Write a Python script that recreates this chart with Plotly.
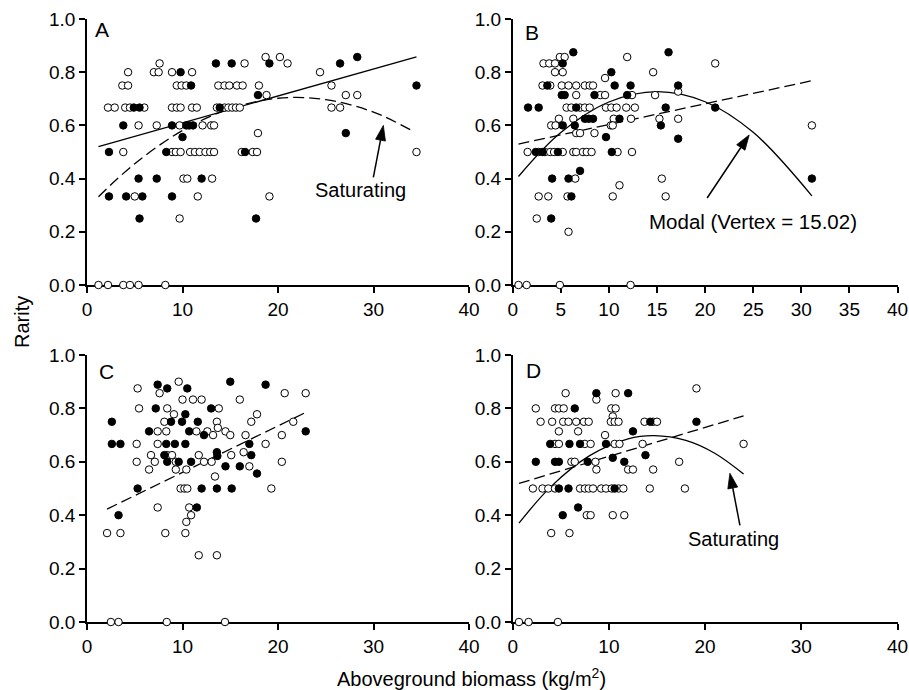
import math
import plotly.graph_objects as go

# ---------------- data ----------------
# Panel A
A_open_x = [7.6, 16.5, 18.7, 20.2, 21.0,
            4.3, 7.0, 7.5, 8.9, 11.0, 24.4,
            3.7, 4.3, 9.4, 9.9, 10.4, 13.75, 14.4, 14.9, 15.7, 16.3, 18.0, 25.6,
            18.8, 27.1, 28.3,
            2.2, 2.9, 4.0, 4.5, 6.0, 8.9, 9.4, 9.8, 11.0, 11.5, 13.6, 14.4, 14.8, 15.2, 15.6, 16.0, 25.6, 26.5,
            5.4, 7.3, 9.7, 12.1, 13.0, 13.3,
            17.9,
            3.8, 8.9, 9.3, 9.8, 10.8, 11.3, 11.8, 12.4, 12.9, 13.3, 16.2, 17.35, 17.8, 34.5,
            10.1, 10.5, 13.1,
            5.0, 11.6, 19.1,
            9.7,
            1.2, 2.2, 3.8, 4.5, 5.4, 8.2]
A_open_y = [0.833, 0.833, 0.857, 0.857, 0.833,
            0.8, 0.8, 0.8, 0.8, 0.8, 0.8,
            0.75, 0.75, 0.75, 0.75, 0.75, 0.75, 0.75, 0.75, 0.75, 0.75, 0.75, 0.75,
            0.714, 0.714, 0.714,
            0.667, 0.667, 0.667, 0.667, 0.667, 0.667, 0.667, 0.667, 0.667, 0.667, 0.667, 0.667, 0.667, 0.667, 0.667, 0.667, 0.667, 0.667,
            0.6, 0.6, 0.6, 0.6, 0.6, 0.6,
            0.571,
            0.5, 0.5, 0.5, 0.5, 0.5, 0.5, 0.5, 0.5, 0.5, 0.5, 0.5, 0.5, 0.5, 0.5,
            0.4, 0.4, 0.4,
            0.333, 0.333, 0.333,
            0.25,
            0, 0, 0, 0, 0, 0]
A_fill_x = [13.5, 15.15, 9.8, 19.1, 26.5, 28.3,
            10.9, 34.5,
            17.9,
            4.9, 5.5, 13.9,
            3.8, 8.9, 10.4, 10.7, 11.1,
            10.0, 27.1,
            2.3, 8.3, 16.55,
            5.4, 7.3, 12.0,
            2.3, 4.1, 5.8, 8.9,
            5.5, 17.7]
A_fill_y = [0.833, 0.833, 0.8, 0.833, 0.833, 0.857,
            0.75, 0.75,
            0.714,
            0.667, 0.667, 0.667,
            0.6, 0.6, 0.6, 0.6, 0.6,
            0.556, 0.571,
            0.5, 0.5, 0.5,
            0.4, 0.4, 0.4,
            0.333, 0.333, 0.333, 0.333,
            0.25, 0.25]
A_lin_x = [1.2, 34.5]
A_lin_y = [0.52, 0.858]
A_quad_x = [1.2, 5, 10, 15, 20, 25, 30, 34.2]
A_quad_y = [0.332, 0.456, 0.581, 0.663, 0.702, 0.697, 0.650, 0.577]

# Panel B
B_open_x = [4.9, 5.4, 11.9,
            3.2, 3.8, 4.4, 21.05,
            4.4, 5.2, 14.6,
            9.6,
            3.1, 3.9, 5.1, 5.8, 6.6, 7.5, 8.0, 8.35,
            17.2,
            6.6, 9.1, 9.6, 12.4, 14.8,
            5.6, 6.1, 7.0, 7.5, 8.0, 9.7, 10.25, 10.8, 11.8, 12.7,
            4.8, 6.3, 10.5, 12.3, 15.25, 17.2,
            4.0, 4.45, 10.2, 10.4, 31.1,
            6.6, 7.0, 8.5,
            1.55, 2.7, 3.35, 3.9, 4.3, 5.2, 6.3, 6.6, 7.3, 7.7, 8.2, 10.9, 12.4,
            6.5, 15.5,
            11.1,
            2.7, 3.7, 5.7, 10.4, 15.9,
            2.5,
            5.8,
            0.6, 1.45, 4.9, 12.25]
B_open_y = [0.857, 0.857, 0.857,
            0.833, 0.833, 0.833, 0.833,
            0.8, 0.8, 0.8,
            0.778,
            0.75, 0.75, 0.75, 0.75, 0.75, 0.75, 0.75, 0.75,
            0.727,
            0.714, 0.714, 0.714, 0.714, 0.714,
            0.667, 0.667, 0.667, 0.667, 0.667, 0.667, 0.667, 0.667, 0.667, 0.667,
            0.625, 0.625, 0.625, 0.625, 0.625, 0.625,
            0.6, 0.6, 0.6, 0.6, 0.6,
            0.571, 0.571, 0.571,
            0.5, 0.5, 0.5, 0.5, 0.5, 0.5, 0.5, 0.5, 0.5, 0.5, 0.5, 0.5, 0.5,
            0.4, 0.4,
            0.375,
            0.333, 0.333, 0.333, 0.333, 0.333,
            0.25,
            0.2,
            0, 0, 0, 0]
B_fill_x = [6.3, 16.2,
            5.2,
            10.25,
            3.6, 10.6, 12.25, 17.2,
            5.1, 5.4, 8.5, 11.9,
            1.6, 2.7, 6.6, 15.9, 21.05,
            7.5, 7.9, 8.35, 11.1,
            5.2, 6.45, 15.4,
            9.7, 17.2,
            2.4, 3.1, 4.7, 10.3,
            7.0,
            4.1, 5.8, 31.1,
            6.1,
            4.0]
B_fill_y = [0.875, 0.875,
            0.833,
            0.8,
            0.75, 0.75, 0.75, 0.75,
            0.714, 0.714, 0.714, 0.714,
            0.667, 0.667, 0.667, 0.667, 0.667,
            0.625, 0.625, 0.625, 0.625,
            0.6, 0.6, 0.6,
            0.556, 0.55,
            0.5, 0.5, 0.5, 0.5,
            0.429,
            0.4, 0.4, 0.4,
            0.333,
            0.25]
B_lin_x = [0.6, 31.1]
B_lin_y = [0.53, 0.768]
B_quad_x = [0.6, 5, 10, 15.02, 20, 25, 31.1]
B_quad_y = [0.408, 0.573, 0.688, 0.727, 0.689, 0.574, 0.335]

# Panel C
C_open_x = [7.6, 9.6, 5.3,
            10.0, 11.1, 12.0, 16.0,
            5.45, 8.4, 13.8,
            9.1, 17.8,
            8.1, 13.6, 17.2, 21.6,
            7.4, 8.3, 11.45, 12.6, 14.5,
            13.7,
            13.2, 15.0, 16.6, 20.4,
            5.2, 7.4, 18.7,
            6.7, 8.4, 8.9, 11.7, 15.1, 16.4,
            5.2, 7.1, 9.3, 12.25, 13.05, 20.4,
            17.0,
            6.5, 9.3, 10.4,
            13.4,
            9.8, 10.2, 10.5, 19.3,
            7.4, 10.7,
            10.9,
            10.4,
            2.1, 3.5, 8.2, 10.3,
            11.7, 13.6,
            20.7, 22.9,
            2.5, 3.3, 8.35, 14.45]
C_open_y = [0.857, 0.9, 0.875,
            0.833, 0.833, 0.833, 0.833,
            0.8, 0.8, 0.8,
            0.778, 0.778,
            0.75, 0.75, 0.75, 0.75,
            0.714, 0.714, 0.714, 0.714, 0.714,
            0.727,
            0.7, 0.7, 0.7, 0.7,
            0.667, 0.667, 0.667,
            0.625, 0.625, 0.625, 0.625, 0.625, 0.636,
            0.6, 0.6, 0.6, 0.6, 0.6, 0.6,
            0.583,
            0.571, 0.571, 0.571,
            0.545,
            0.5, 0.5, 0.5, 0.5,
            0.429, 0.429,
            0.4,
            0.375,
            0.333, 0.333, 0.333, 0.333,
            0.25, 0.25,
            0.857, 0.857,
            0, 0, 0, 0]
C_fill_x = [7.4, 8.4, 10.5, 15.0, 18.7,
            7.2, 13.0,
            10.3,
            2.6, 8.8, 9.95, 11.6,
            6.5, 10.7, 22.9,
            12.25,
            2.6, 3.5, 8.3, 9.2, 10.3, 17.0,
            8.1, 13.6, 13.65, 17.2,
            8.4, 9.6, 10.9,
            14.5, 16.0,
            17.8,
            5.3, 12.0, 13.6, 15.15,
            11.5,
            3.3]
C_fill_y = [0.889, 0.875, 0.875, 0.9, 0.889,
            0.8, 0.8,
            0.778,
            0.75, 0.75, 0.75, 0.75,
            0.714, 0.714, 0.714,
            0.7,
            0.667, 0.667, 0.667, 0.667, 0.667, 0.667,
            0.625, 0.636, 0.622, 0.625,
            0.6, 0.6, 0.6,
            0.583, 0.583,
            0.556,
            0.5, 0.5, 0.5, 0.5,
            0.429,
            0.4]
C_lin_x = [2.1, 22.9]
C_lin_y = [0.423, 0.785]

# Panel D
D_open_x = [5.5, 8.7, 10.7, 19.1,
            2.4, 4.4, 4.8, 5.3, 10.25, 10.7,
            10.4,
            2.9, 4.1, 5.25, 5.8, 6.6, 7.4, 7.9, 10.2, 10.6, 11.0, 13.7, 14.6, 15.0,
            4.8, 6.8,
            9.6,
            4.4, 4.8, 7.5, 8.1, 10.6, 11.1, 13.5, 24.0,
            6.1, 6.45, 8.6, 17.3,
            8.7, 12.0, 12.5, 14.6,
            2.1, 3.1, 3.7, 4.4, 7.0, 7.5, 7.9, 8.35, 9.2, 9.7, 10.3, 11.0, 11.5, 14.25, 17.9,
            7.7, 8.1, 10.4, 11.6,
            4.0, 5.9,
            0.65, 1.65, 4.7]
D_open_y = [0.857, 0.833, 0.857, 0.875,
            0.8, 0.8, 0.8, 0.8, 0.8, 0.8,
            0.77,
            0.75, 0.75, 0.75, 0.75, 0.75, 0.75, 0.75, 0.75, 0.75, 0.75, 0.75, 0.75, 0.75,
            0.714, 0.714,
            0.7,
            0.667, 0.667, 0.667, 0.667, 0.667, 0.667, 0.667, 0.667,
            0.6, 0.6, 0.6, 0.6,
            0.571, 0.571, 0.571, 0.571,
            0.5, 0.5, 0.5, 0.5, 0.5, 0.5, 0.5, 0.5, 0.5, 0.5, 0.5, 0.5, 0.5, 0.5, 0.5,
            0.4, 0.4, 0.4, 0.4,
            0.333, 0.333,
            0, 0, 0]
D_fill_x = [8.7, 12.0,
            6.45,
            14.3, 19.1,
            12.5,
            3.9, 5.9, 7.0, 9.7,
            13.8, 10.4,
            2.4, 4.4, 4.8, 7.8, 11.6,
            4.8, 5.8, 10.6,
            6.8,
            5.2]
D_fill_y = [0.857, 0.857,
            0.8,
            0.75, 0.75,
            0.714,
            0.667, 0.667, 0.667, 0.667,
            0.625, 0.615,
            0.6, 0.6, 0.6, 0.6, 0.6,
            0.5, 0.5, 0.5,
            0.429,
            0.4]
D_lin_x = [0.65, 24.0]
D_lin_y = [0.519, 0.772]
D_quad_x = [0.65, 4, 8, 12, 14.7, 18, 21, 24.0]
D_quad_y = [0.370, 0.508, 0.623, 0.686, 0.698, 0.680, 0.632, 0.554]

x_ticks_main = [0, 10, 20, 30, 40]
x_ticks_b = [0, 5, 10, 15, 20, 25, 30, 35, 40]
y_ticks = [0.0, 0.2, 0.4, 0.6, 0.8, 1.0]
panel_letters = ["A", "B", "C", "D"]

# ---------------- figure ----------------
FONT = "Liberation Sans, Arial, sans-serif"
W, H = 909, 690
fig = go.Figure()

MS = 7.5
open_marker = dict(symbol="circle", size=MS, color="white", line=dict(color="black", width=1))
fill_marker = dict(symbol="circle", size=MS, color="black", line=dict(color="black", width=1))
solid = dict(color="black", width=1.3)
dashed = dict(color="black", width=1.3, dash="11px,5px")


def add_panel(idx, ox, oy, fx, fy, lines):
    xa = "x" if idx == 1 else f"x{idx}"
    ya = "y" if idx == 1 else f"y{idx}"
    for (lx, ly, style, spline) in lines:
        fig.add_trace(go.Scatter(x=lx, y=ly, mode="lines",
                                 line=dict(**style, shape="spline" if spline else "linear"),
                                 xaxis=xa, yaxis=ya, showlegend=False, hoverinfo="skip",
                                 cliponaxis=False))
    fig.add_trace(go.Scatter(x=ox, y=oy, mode="markers", marker=open_marker, xaxis=xa, yaxis=ya,
                             showlegend=False, cliponaxis=False))
    fig.add_trace(go.Scatter(x=fx, y=fy, mode="markers", marker=fill_marker, xaxis=xa, yaxis=ya,
                             showlegend=False, cliponaxis=False))


add_panel(1, A_open_x, A_open_y, A_fill_x, A_fill_y,
          [(A_lin_x, A_lin_y, solid, False), (A_quad_x, A_quad_y, dashed, True)])
add_panel(2, B_open_x, B_open_y, B_fill_x, B_fill_y,
          [(B_lin_x, B_lin_y, dashed, False), (B_quad_x, B_quad_y, solid, True)])
add_panel(3, C_open_x, C_open_y, C_fill_x, C_fill_y,
          [(C_lin_x, C_lin_y, dashed, False)])
add_panel(4, D_open_x, D_open_y, D_fill_x, D_fill_y,
          [(D_lin_x, D_lin_y, dashed, False), (D_quad_x, D_quad_y, solid, True)])


def px_dom(a, b, total):
    return [a / total, b / total]


x_left = px_dom(87, 469, W)
x_right = px_dom(512.7, 897.5, W)
y_top = [1 - 285 / H, 1 - 19 / H]
y_bot = [1 - 622 / H, 1 - 355 / H]

axis_common = dict(showline=True, linecolor="black", linewidth=1.5, ticks="outside", ticklen=6,
                   tickwidth=1.5, tickcolor="black", showgrid=False, zeroline=False,
                   tickfont=dict(family=FONT, size=19, color="black"), layer="below traces",
                   fixedrange=True, automargin=False, ticklabeloverflow="allow")

layout_axes = {}
specs = [(1, x_left, y_top, x_ticks_main), (2, x_right, y_top, x_ticks_b),
         (3, x_left, y_bot, x_ticks_main), (4, x_right, y_bot, x_ticks_main)]
for idx, xd, yd, xt in specs:
    xn = "xaxis" if idx == 1 else f"xaxis{idx}"
    yn = "yaxis" if idx == 1 else f"yaxis{idx}"
    ya = "y" if idx == 1 else f"y{idx}"
    xa = "x" if idx == 1 else f"x{idx}"
    layout_axes[xn] = dict(axis_common, domain=xd, range=[0, 40], tickvals=xt,
                           ticktext=[str(v) for v in xt], anchor=ya)
    layout_axes[yn] = dict(axis_common, domain=yd, range=[0, 1.0], tickvals=y_ticks,
                           ticktext=[f"{v:.1f}" for v in y_ticks], anchor=xa)

annotations = []
letter_pos = [(102, 30), (532, 32), (106, 371), (533, 370)]
for L, (px, py) in zip(panel_letters, letter_pos):
    annotations.append(dict(text=L, x=px / W, y=1 - py / H, xref="paper", yref="paper",
                            showarrow=False, xanchor="center", yanchor="middle",
                            font=dict(family=FONT, size=21, color="black")))

txt_font = dict(family=FONT, size=20, color="black")
annotations.append(dict(x=28.6, y=0.357, xref="x", yref="y", text="Saturating", showarrow=False,
                        font=txt_font, xanchor="center", yanchor="middle"))
annotations.append(dict(x=25.0, y=0.238, xref="x2", yref="y2", text="Modal (Vertex = 15.02)",
                        showarrow=False, font=dict(family=FONT, size=20.5, color="black"),
                        xanchor="center", yanchor="middle"))
annotations.append(dict(x=22.92, y=0.31, xref="x4", yref="y4", text="Saturating", showarrow=False,
                        font=txt_font, xanchor="center", yanchor="middle"))
annotations.append(dict(text="Rarity", x=22 / W, y=1 - 322 / H, xref="paper", yref="paper",
                        showarrow=False, textangle=-90, xanchor="center", yanchor="middle",
                        font=dict(family=FONT, size=20, color="black")))
annotations.append(dict(text="Aboveground biomass (kg/m<sup>2</sup>)", x=471 / W, y=1 - 677 / H,
                        xref="paper", yref="paper", showarrow=False, xanchor="center",
                        yanchor="middle", font=dict(family=FONT, size=20, color="black")))

# arrows drawn as shapes (pixel offsets from the arrow tip; +y is up)
shapes = []


def add_arrow(xref, yref, tip_x, tip_y, tail_dx, tail_dy, head_len=15, head_half=5):
    L = math.hypot(tail_dx, tail_dy)
    ux, uy = -tail_dx / L, -tail_dy / L          # unit vector tail -> tip
    nx, ny = -uy, ux
    bx, by = -head_len * ux, -head_len * uy       # base centre of head (relative to tip)
    c1 = (bx + head_half * nx, by + head_half * ny)
    c2 = (bx - head_half * nx, by - head_half * ny)
    common = dict(xref=xref, yref=yref, xsizemode="pixel", ysizemode="pixel",
                  xanchor=tip_x, yanchor=tip_y, layer="above")
    shapes.append(dict(type="path", path=f"M {tail_dx:.2f},{tail_dy:.2f} L {bx:.2f},{by:.2f}",
                       line=dict(color="black", width=1.5), **common))
    shapes.append(dict(type="path",
                       path=f"M 0,0 L {c1[0]:.2f},{c1[1]:.2f} L {c2[0]:.2f},{c2[1]:.2f} Z",
                       line=dict(color="black", width=0.8), fillcolor="black", **common))


add_arrow("x", "y", 31.03, 0.60, -10, -52)
add_arrow("x2", "y2", 24.58, 0.564, -42, -63)
add_arrow("x4", "y4", 22.58, 0.557, 10, -52)

fig.update_layout(width=W, height=H, autosize=False,
                  margin=dict(l=0, r=0, t=0, b=0, autoexpand=False),
                  paper_bgcolor="white", plot_bgcolor="white", showlegend=False,
                  annotations=annotations, shapes=shapes, **layout_axes)

fig.write_html("out.html")
